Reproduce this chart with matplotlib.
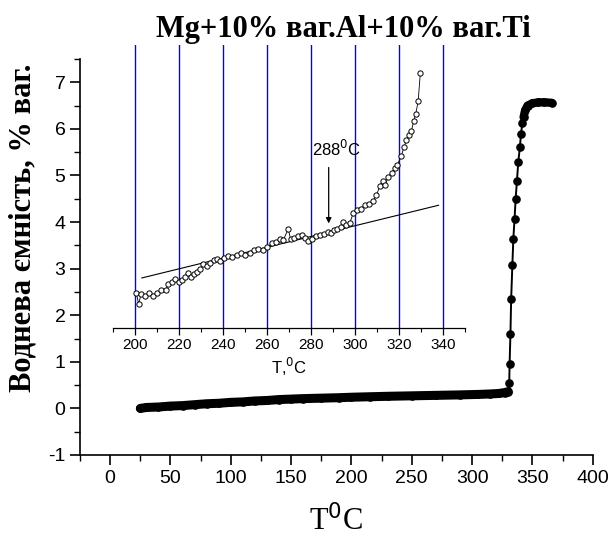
import matplotlib
matplotlib.use("Agg")
import matplotlib.pyplot as plt
from matplotlib.ticker import MultipleLocator

# main curve: temperature (C) vs hydrogen content (wt %)
main_T = [25, 30, 40, 50, 60, 70, 80, 90, 100, 110, 120, 130, 140, 150, 160, 175,
          190, 200, 215, 230, 250, 270, 290, 305, 315, 322, 327, 330,
          330.8, 331.1, 331.8, 332.4, 333.4, 334.2, 335.2, 336.1, 337.2, 338.3,
          339.7, 340.5, 341.7, 342.7, 344.0, 346.0, 350.0, 355.0, 360.0, 366.0]
main_H = [0.00, 0.02, 0.03, 0.05, 0.06, 0.08, 0.10, 0.11, 0.13, 0.14, 0.16, 0.17,
          0.19, 0.20, 0.21, 0.22, 0.23, 0.24, 0.25, 0.26, 0.27, 0.28, 0.29, 0.30,
          0.31, 0.32, 0.34, 0.36,
          0.54, 0.95, 1.60, 2.35, 3.08, 3.64, 4.06, 4.49, 4.89, 5.29,
          5.62, 5.89, 6.12, 6.25, 6.40, 6.50, 6.55, 6.57, 6.57, 6.56]

# inset: zoom on 200-330 C
ins_T = [200.5, 201.5, 202.7, 204.5, 206.4, 207.9, 209.8, 211.8, 213.8, 215.1,
         216.7, 218.2, 219.7, 221.2, 222.7, 223.8, 225.3, 226.8, 228.3, 229.5,
         231.0, 232.5, 234.1, 235.6, 237.1, 238.6, 240.4, 242.4, 244.2, 246.2,
         248.0, 250.0, 252.2, 254.0, 256.0, 258.3, 260.1, 262.1, 264.0, 265.8,
         267.4, 269.6, 270.7, 272.4, 274.2, 275.7, 277.2, 278.7, 280.4, 282.2,
         284.0, 285.8, 287.6, 288.9, 290.4, 291.9, 293.4, 294.6, 296.1, 297.6,
         299.2, 301.0, 302.5, 304.4, 306.4, 308.2, 309.7, 311.3, 312.5, 313.8,
         315.0, 316.6, 318.1, 319.3, 321.1, 322.2, 323.4, 324.6, 325.6, 326.7,
         327.6, 328.7, 329.7]
ins_H = [2.47, 2.25, 2.45, 2.41, 2.48, 2.42, 2.48, 2.54, 2.54, 2.66,
         2.71, 2.78, 2.71, 2.75, 2.82, 2.91, 2.82, 2.89, 2.92, 2.99,
         3.10, 3.05, 3.12, 3.19, 3.20, 3.17, 3.22, 3.27, 3.24, 3.29,
         3.33, 3.29, 3.33, 3.39, 3.42, 3.40, 3.46, 3.54, 3.58, 3.63,
         3.62, 3.85, 3.63, 3.65, 3.69, 3.72, 3.65, 3.60, 3.63, 3.69,
         3.72, 3.74, 3.79, 3.76, 3.83, 3.86, 3.90, 4.00, 3.93, 3.98,
         4.19, 4.25, 4.28, 4.36, 4.39, 4.46, 4.57, 4.78, 4.89, 4.80,
         4.96, 5.06, 5.16, 5.23, 5.42, 5.61, 5.75, 5.87, 5.95, 6.17,
         6.32, 6.59, 7.20]
fit_T = [203, 338]
fit_H = [2.80, 4.36]
grid_T = [200, 220, 240, 260, 280, 300, 320, 340]
onset_T, onset_top, onset_bot = 288, 5.23, 3.91

SERIF = "Liberation Serif"
SANS = "Liberation Sans"
plt.rcParams["axes.unicode_minus"] = False

fig = plt.figure(figsize=(6.13, 5.38), dpi=100)
ax = fig.add_axes([0.1305, 0.1543, 0.8364, 0.736])

n_band = main_T.index(330) + 1
n_plat = main_T.index(342.7)
ax.plot(main_T[:n_band], main_H[:n_band], "-", color="k", lw=6.5,
        solid_capstyle="round", zorder=2)
ax.plot(main_T[n_plat:], main_H[n_plat:], "-", color="k", lw=6.0,
        solid_capstyle="round", zorder=2)
ax.plot(main_T, main_H, "-o", color="k", lw=1.4, ms=5.2, zorder=3)

ax.set_xlim(-25, 400)
ax.set_ylim(-1, 7.5)
ax.xaxis.set_major_locator(MultipleLocator(50))
ax.xaxis.set_minor_locator(MultipleLocator(25))
ax.yaxis.set_major_locator(MultipleLocator(1))
ax.yaxis.set_minor_locator(MultipleLocator(0.5))
for s in ("top", "right"):
    ax.spines[s].set_visible(False)
for s in ("left", "bottom"):
    ax.spines[s].set_linewidth(1.2)
ax.tick_params(which="major", length=7, width=1.2, labelsize=14)
ax.tick_params(which="minor", length=4, width=1.0)
for lab in ax.get_xticklabels() + ax.get_yticklabels():
    lab.set_fontfamily(SANS)
ax.set_xlabel("T$^0$C", fontfamily=SERIF, fontsize=22, labelpad=13)
ax.set_ylabel("Воднева ємність, % ваг.", fontfamily=SERIF, fontweight="bold",
              fontsize=22)
ax.yaxis.set_label_coords(-0.082, 0.575)
fig.text(0.56, 0.945, "Mg+10% ваг.Al+10% ваг.Ti", ha="center", va="center",
         fontfamily=SERIF, fontweight="bold", fontsize=22)

# inset
ai = fig.add_axes([0.1848, 0.3903, 0.5737, 0.5261])
ai.patch.set_alpha(0)
for T in grid_T:
    ai.axvline(T, color="#0000ff", lw=1.0, zorder=1)
ai.plot(fit_T, fit_H, "-", color="k", lw=0.8, zorder=2)
ai.plot(ins_T, ins_H, "-o", color="k", lw=0.6, ms=3.8, mfc="white",
        mec="k", mew=0.7, zorder=3)
ai.annotate("", xy=(onset_T, onset_bot), xytext=(onset_T, onset_top),
            arrowprops=dict(arrowstyle="-|>", color="k", lw=0.9,
                            mutation_scale=8), zorder=4)
ai.text(onset_T + 3.5, onset_top + 0.12, "288$^0$C", ha="center", va="bottom",
        fontfamily=SANS, fontsize=12)
ai.set_xlim(190, 350)
ai.set_ylim(1.725, 7.80)
ai.xaxis.set_major_locator(MultipleLocator(20))
ai.xaxis.set_minor_locator(MultipleLocator(10))
ai.set_yticks([])
for s in ("top", "right", "left"):
    ai.spines[s].set_visible(False)
ai.spines["bottom"].set_linewidth(0.9)
ai.tick_params(which="major", length=5, width=0.9, labelsize=11, pad=2)
ai.tick_params(which="minor", length=3, width=0.8)
for lab in ai.get_xticklabels():
    lab.set_fontfamily(SANS)
ai.set_xlabel("T,$^0$C", fontfamily=SANS, fontsize=12, labelpad=3)

fig.savefig("out.png", dpi=100)
